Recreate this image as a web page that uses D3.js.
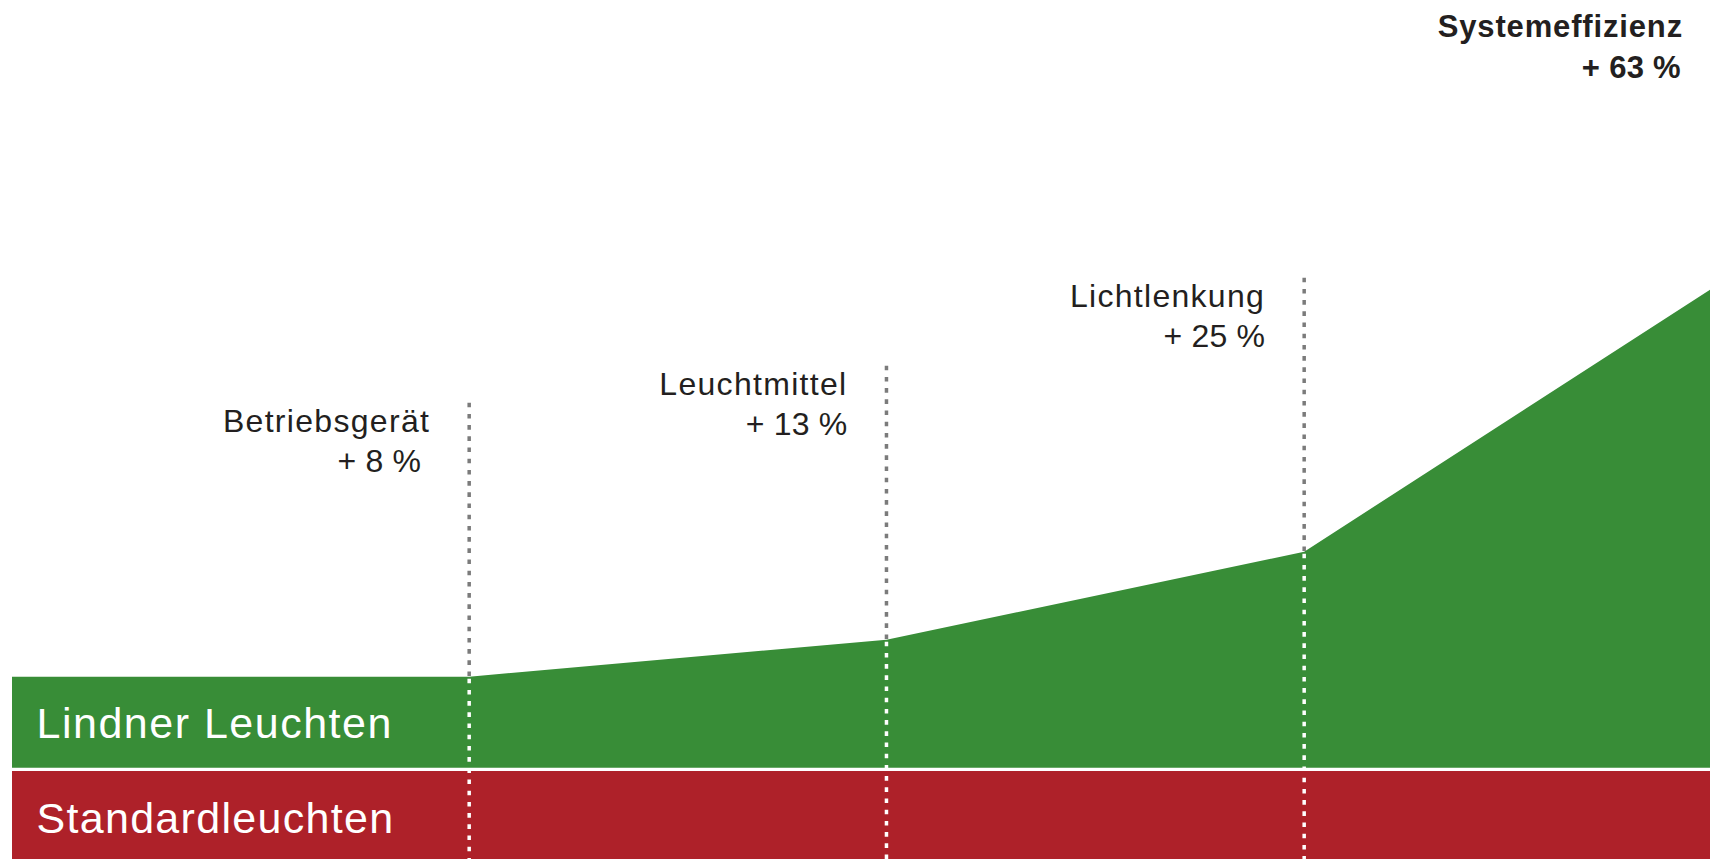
<!DOCTYPE html>
<html>
<head>
<meta charset="utf-8">
<script src="https://cdn.jsdelivr.net/npm/d3@7"></script>
<style>
  html, body { margin: 0; padding: 0; background: #ffffff; }
  svg { display: block; }
</style>
</head>
<body>
<svg id="chart" width="1710" height="859"></svg>
<script>
// ---- data ----
const stages = ["Start", "Betriebsgerät", "Leuchtmittel", "Lichtlenkung", "Systemeffizienz"];
const stagePos = [0, 1.077, 2.06, 3.044, 4];          // position of each stage along the process
const lindnerLevel = [91, 91, 128, 216, 478];          // height of the green (Lindner) area, chart units
const standardLevel = [88, 88, 88, 88, 88];            // height of the red (standard) band, chart units
const gainLabels = ["", "+ 8 %", "+ 13 %", "+ 25 %", "+ 63 %"];
const bandLabels = ["Lindner Leuchten", "Standardleuchten"];

// ---- layout ----
const W = 1710, H = 859;
const left = 12, right = 1710;
const greenBase = 767.7;   // baseline of green area
const redTop = 771;
const green = "#388d37", red = "#ae2129", dashGray = "#7b7b7b", ink = "#231f20";

const svg = d3.select("#chart");
const x = d3.scaleLinear().domain([0, 4]).range([left, right]);
const y = d3.scaleLinear().domain([0, 500]).range([greenBase, greenBase - 500]);
const yRed = d3.scaleLinear().domain([0, 100]).range([redTop, redTop + 100]);

const pts = stages.map((s, i) => ({ s, x: stagePos[i], g: lindnerLevel[i], r: standardLevel[i], lab: gainLabels[i] }));

// red band
svg.append("path")
  .datum(pts)
  .attr("fill", red)
  .attr("d", d3.area().x(d => x(d.x)).y0(d => yRed(d.r)).y1(yRed(0)));

// green area
svg.append("path")
  .datum(pts)
  .attr("fill", green)
  .attr("d", d3.area().x(d => x(d.x)).y0(y(0)).y1(d => y(d.g)));

// dashed separators
const mids = pts.slice(1, 4);
const dash = "4.6 6.6";
svg.selectAll("line.gray").data(mids).enter().append("line")
  .attr("x1", d => x(d.x)).attr("x2", d => x(d.x))
  .attr("y1", d => y(d.g) - 274).attr("y2", d => y(d.g))
  .attr("stroke", dashGray).attr("stroke-width", 3.5).attr("stroke-dasharray", dash);
svg.selectAll("line.white").data(mids).enter().append("line")
  .attr("x1", d => x(d.x)).attr("x2", d => x(d.x))
  .attr("y1", d => y(d.g) + 2).attr("y2", H + 5)
  .attr("stroke", "#ffffff").attr("stroke-width", 3.5).attr("stroke-dasharray", dash);

// stage labels
const labFont = "'Liberation Sans', Arial, Helvetica, sans-serif";
mids.forEach((d, i) => {
  const xr = x(d.x) - 39;
  const yb = y(d.g) - 245;
  svg.append("text").attr("x", xr).attr("y", yb)
    .attr("text-anchor", "end").attr("font-family", labFont).attr("font-size", 32)
    .attr("letter-spacing", 1.3).attr("fill", ink).text(d.s);
  svg.append("text").attr("x", xr - (i === 0 ? 9 : 0)).attr("y", yb + 40)
    .attr("text-anchor", "end").attr("font-family", labFont).attr("font-size", 32)
    .attr("letter-spacing", 0.2).attr("fill", ink).text(d.lab);
});

// final label
const last = pts[4];
svg.append("text").attr("x", x(last.x) - 27).attr("y", y(last.g) - 253)
  .attr("text-anchor", "end").attr("font-family", labFont).attr("font-size", 31)
  .attr("font-weight", "bold").attr("letter-spacing", 0.85).attr("fill", ink).text(last.s);
svg.append("text").attr("x", x(last.x) - 29).attr("y", y(last.g) - 212)
  .attr("text-anchor", "end").attr("font-family", labFont).attr("font-size", 31)
  .attr("font-weight", "bold").attr("letter-spacing", 0.3).attr("fill", ink).text(last.lab);

// band labels
svg.append("text").attr("x", 36.5).attr("y", y(0) - 29.5)
  .attr("font-family", labFont).attr("font-size", 43).attr("letter-spacing", 1.5)
  .attr("fill", "#ffffff").text(bandLabels[0]);
svg.append("text").attr("x", 36.5).attr("y", yRed(0) + 62)
  .attr("font-family", labFont).attr("font-size", 43).attr("letter-spacing", 1.3)
  .attr("fill", "#ffffff").text(bandLabels[1]);
</script>
</body>
</html>
